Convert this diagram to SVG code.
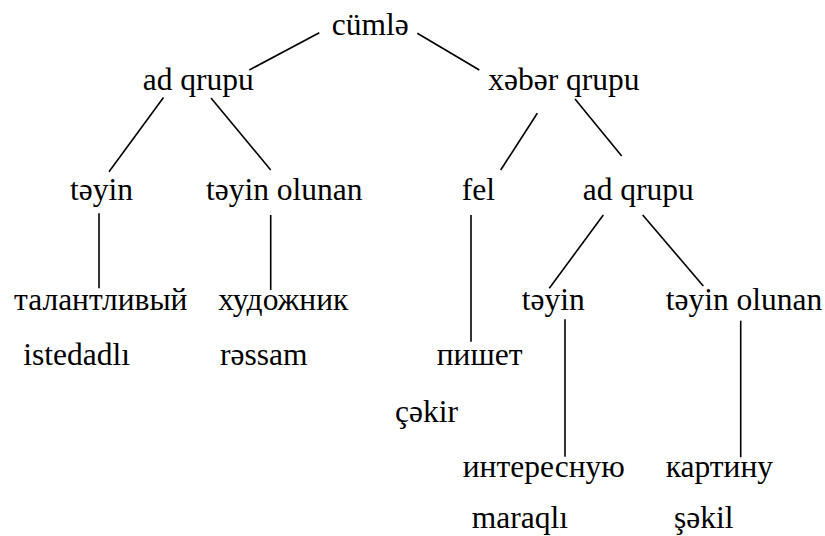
<svg xmlns="http://www.w3.org/2000/svg" width="825" height="536" viewBox="0 0 825 536">
  <rect width="825" height="536" fill="#fff"/>

  <!-- tree edges: shared stroke set once on the group -->
  <g id="edges" stroke="#000" stroke-width="1.6" fill="none">
    <line x1="319.3" y1="32.7" x2="249.3" y2="70"/>
    <line x1="417.3" y1="33.3" x2="479.3" y2="70"/>
    <line x1="163.5" y1="97.5" x2="109" y2="171.7"/>
    <line x1="211" y1="98" x2="270.7" y2="170"/>
    <line x1="99" y1="213.3" x2="99" y2="288.3"/>
    <line x1="270.7" y1="215" x2="270.7" y2="290"/>
    <line x1="537.3" y1="113.3" x2="500.7" y2="170"/>
    <line x1="575" y1="99" x2="621.7" y2="156"/>
    <line x1="471" y1="215" x2="471" y2="341.7"/>
    <line x1="603.3" y1="215" x2="549.3" y2="288.3"/>
    <line x1="642.7" y1="215" x2="703.3" y2="286"/>
    <line x1="565" y1="319.3" x2="565" y2="456.7"/>
    <line x1="740.7" y1="320.7" x2="740.7" y2="457.3"/>
  </g>

  <!-- nodes: shared font set once on the group -->
  <g id="nodes" font-family="'Liberation Serif', 'Times New Roman', serif" font-size="31.5" fill="#000">
    <g id="n-cumle"><text x="331.7" y="35">cümlə</text></g>
    <g id="n-ad-qrupu-1"><text x="142.7" y="90">ad qrupu</text></g>
    <g id="n-xeber-qrupu"><text x="488.3" y="90">xəbər qrupu</text></g>
    <g id="n-teyin-1"><text x="70" y="200">təyin</text></g>
    <g id="n-teyin-olunan-1"><text x="206" y="200">təyin olunan</text></g>
    <g id="n-fel"><text x="461.7" y="200">fel</text></g>
    <g id="n-ad-qrupu-2"><text x="582.7" y="200">ad qrupu</text></g>
    <g id="n-talantlivyj"><text x="14" y="310">талантливый</text></g>
    <g id="n-hudozhnik"><text x="218.3" y="310">художник</text></g>
    <g id="n-teyin-2"><text x="521.7" y="310">təyin</text></g>
    <g id="n-teyin-olunan-2"><text x="665.7" y="310">təyin olunan</text></g>
    <g id="n-istedadli"><text x="23.3" y="365">istedadlı</text></g>
    <g id="n-ressam"><text x="220" y="365">rəssam</text></g>
    <g id="n-pishet"><text x="436.7" y="365">пишет</text></g>
    <g id="n-cekir"><text x="395" y="421.7">çəkir</text></g>
    <g id="n-interesnuyu"><text x="462.7" y="477">интересную</text></g>
    <g id="n-kartinu"><text x="665.7" y="477">картину</text></g>
    <g id="n-maraqli"><text x="471.7" y="528">maraqlı</text></g>
    <g id="n-sekil"><text x="674" y="528">şəkil</text></g>
  </g>
</svg>
